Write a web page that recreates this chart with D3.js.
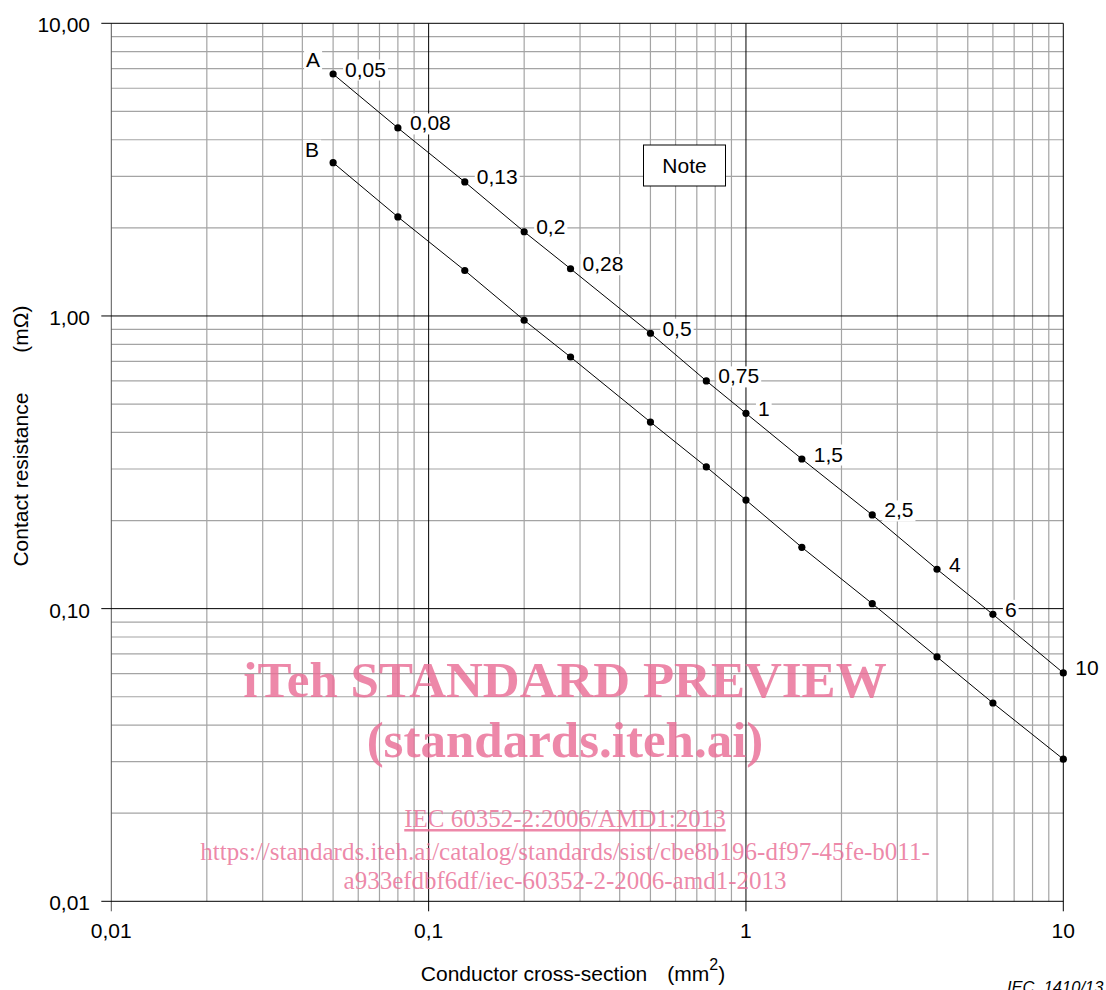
<!DOCTYPE html>
<html>
<head>
<meta charset="utf-8">
<script src="https://cdn.jsdelivr.net/npm/d3@7"></script>
<style>
  html, body { margin: 0; padding: 0; background: #fff; }
  svg { display: block; }
  text { font-family: "Liberation Sans", Arial, sans-serif; }
</style>
</head>
<body>
<svg id="chart" width="1106" height="990"></svg>
<script>
// ---- Data ----
const crossSections = [0.05, 0.08, 0.13, 0.2, 0.28, 0.5, 0.75, 1, 1.5, 2.5, 4, 6, 10];
const pointLabels = ["0,05", "0,08", "0,13", "0,2", "0,28", "0,5", "0,75", "1", "1,5", "2,5", "4", "6", "10"];
const resistanceA = [6.71, 4.39, 2.87, 1.94, 1.45, 0.873, 0.600, 0.465, 0.3245, 0.209, 0.1363, 0.0956, 0.0603];
const resistanceB = [3.34, 2.18, 1.43, 0.967, 0.724, 0.434, 0.305, 0.235, 0.162, 0.1040, 0.0684, 0.0476, 0.0306];
const seriesNames = ["A", "B"];
const xTickValues = [0.01, 0.1, 1, 10];
const xTickLabels = ["0,01", "0,1", "1", "10"];
const yTickValues = [0.01, 0.1, 1, 10];
const yTickLabels = ["0,01", "0,10", "1,00", "10,00"];
const watermarkLines = [
  "iTeh STANDARD PREVIEW",
  "(standards.iteh.ai)",
  "IEC 60352-2:2006/AMD1:2013",
  "https://standards.iteh.ai/catalog/standards/sist/cbe8b196-df97-45fe-b011-",
  "a933efdbf6df/iec-60352-2-2006-amd1-2013"
];

// ---- Layout ----
const svg = d3.select("#chart");
const x = d3.scaleLog().domain([0.01, 10]).range([111.3, 1063.3]);
const y = d3.scaleLog().domain([0.01, 10]).range([901.3, 23.3]);
const FS = 21;

const minorVals = [];
[0.01, 0.1, 1].forEach(d => { for (let k = 2; k <= 9; k++) minorVals.push(+(d * k).toPrecision(3)); });

const grid = svg.append("g");
// minor grid
grid.selectAll("line.vmin").data(minorVals).join("line")
  .attr("x1", d => x(d)).attr("x2", d => x(d))
  .attr("y1", y(10)).attr("y2", y(0.01))
  .attr("stroke", "#a4a4a4").attr("stroke-width", 1.2);
grid.selectAll("line.hmin").data(minorVals).join("line")
  .attr("class", "hmin")
  .attr("y1", d => y(d)).attr("y2", d => y(d))
  .attr("x1", x(0.01)).attr("x2", x(10))
  .attr("stroke", "#a4a4a4").attr("stroke-width", 1.2);
// major grid
grid.selectAll("line.vmaj").data(xTickValues).join("line")
  .attr("class", "vmaj")
  .attr("x1", d => x(d)).attr("x2", d => x(d))
  .attr("y1", y(10)).attr("y2", y(0.01) + 10)
  .attr("stroke", (d, i) => i === 0 ? "#555" : "#000").attr("stroke-width", 1);
grid.selectAll("line.hmaj").data(yTickValues).join("line")
  .attr("class", "hmaj")
  .attr("y1", d => y(d)).attr("y2", d => y(d))
  .attr("x1", x(0.01) - 10).attr("x2", x(10))
  .attr("stroke", "#000").attr("stroke-width", 1);

// tick labels
svg.append("g").selectAll("text").data(yTickValues).join("text")
  .attr("x", 90).attr("y", d => y(d) + 9)
  .attr("text-anchor", "end").attr("font-size", FS).attr("fill", "#000")
  .text((d, i) => yTickLabels[i]);
svg.append("g").selectAll("text").data(xTickValues).join("text")
  .attr("x", d => x(d)).attr("y", 938)
  .attr("text-anchor", "middle").attr("font-size", FS).attr("fill", "#000")
  .text((d, i) => xTickLabels[i]);

// axis titles
const yt = svg.append("text")
  .attr("transform", "translate(28,436) rotate(-90)")
  .attr("text-anchor", "middle").attr("font-size", FS).attr("fill", "#000");
yt.append("tspan").text("Contact resistance");
yt.append("tspan").attr("dx", 40).text("(mΩ)");

const xt = svg.append("text")
  .attr("x", 573).attr("y", 981)
  .attr("text-anchor", "middle").attr("font-size", FS).attr("fill", "#000");
xt.append("tspan").text("Conductor cross-section");
xt.append("tspan").attr("dx", 20).text("(mm");
xt.append("tspan").attr("dy", -11).attr("font-size", 16).text("2");
xt.append("tspan").attr("dy", 11).text(")");

// series
const seriesData = [resistanceA, resistanceB];
const line = d3.line().x(d => x(d[0])).y(d => y(d[1]));
seriesData.forEach((vals, si) => {
  const pts = crossSections.map((c, i) => [c, vals[i]]);
  svg.append("path").datum(pts).attr("d", line)
    .attr("fill", "none").attr("stroke", "#000").attr("stroke-width", 1);
});

// labels with white backgrounds
function labelWithBg(g, tx, ty, txt, anchor) {
  const t = g.append("text").attr("x", tx).attr("y", ty)
    .attr("text-anchor", anchor).attr("font-size", FS).attr("fill", "#000").text(txt);
  const b = t.node().getBBox();
  g.insert("rect", "text").attr("x", b.x - 2).attr("y", b.y + 2)
    .attr("width", b.width + 4).attr("height", b.height - 2).attr("fill", "#fff");
}
const labG = svg.append("g");
crossSections.forEach((c, i) => {
  const g = labG.append("g");
  labelWithBg(g, x(c) + 12, y(resistanceA[i]) + 2.5, pointLabels[i], "start");
});
{
  const g = labG.append("g");
  labelWithBg(g, x(crossSections[0]) - 13, y(resistanceA[0]) - 7.3, seriesNames[0], "end");
  const g2 = labG.append("g");
  labelWithBg(g2, x(crossSections[0]) - 14, y(resistanceB[0]) - 6, seriesNames[1], "end");
}

// dots
seriesData.forEach(vals => {
  svg.append("g").selectAll("circle").data(crossSections).join("circle")
    .attr("cx", d => x(d)).attr("cy", (d, i) => y(vals[i])).attr("r", 3.6).attr("fill", "#000");
});

// Note box
svg.append("rect").attr("x", 643.5).attr("y", 145).attr("width", 82).attr("height", 41)
  .attr("fill", "#fff").attr("stroke", "#000").attr("stroke-width", 1);
svg.append("text").attr("x", 684.5).attr("y", 173).attr("text-anchor", "middle")
  .attr("font-size", FS).attr("fill", "#000").text("Note");

// IEC reference
svg.append("text").attr("x", 1007).attr("y", 993).attr("font-size", 16.5)
  .attr("font-style", "italic").attr("fill", "#000")
  .attr("xml:space", "preserve").style("white-space", "pre").text("IEC  1410/13");

// watermark
const wm = svg.append("g").attr("fill", "rgb(233,110,150)").attr("fill-opacity", 0.82)
  .style("font-family", "'Liberation Serif', 'Times New Roman', serif");
const wmPos = [[697, 51, "bold"], [757, 51, "bold"], [827, 25, "normal"], [860, 25, "normal"], [889, 25, "normal"]];
watermarkLines.forEach((s, i) => {
  const t = wm.append("text").attr("x", 565).attr("y", wmPos[i][0])
    .attr("text-anchor", "middle").attr("font-size", wmPos[i][1])
    .attr("font-weight", wmPos[i][2])
    .style("font-family", "'Liberation Serif', 'Times New Roman', serif").text(s);
  if (i === 2) t.attr("text-decoration", "underline");
});
</script>
</body>
</html>
